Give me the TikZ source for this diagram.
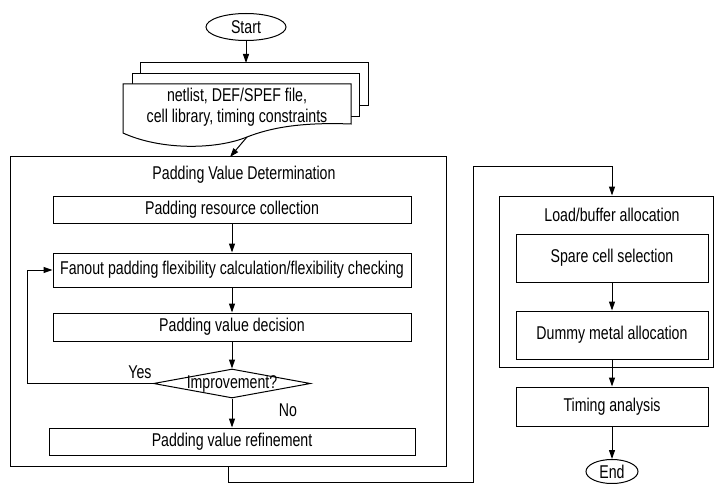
\documentclass[tikz,border=0pt]{standalone}
\usepackage{fontspec}
\setmainfont[FakeStretch=0.765]{Liberation Sans}
\usetikzlibrary{shapes.geometric,arrows.meta,calc}
\begin{document}
\begin{tikzpicture}[x=1pt,y=-1pt,line width=1pt,
  every node/.style={font=\fontsize{18.5}{21}\selectfont, inner sep=0pt},
  box/.style={draw, rectangle, fill=white},
  term/.style={draw, ellipse, fill=white},
  arr/.style={-{Triangle[length=9pt,width=6pt]}}]
\useasboundingbox (0,0) rectangle (715,484);

% start
\node[term, minimum width=80, minimum height=27] (start) at (246,27) {Start};

% document stack
\draw[fill=white] (140,63) rectangle (368,106);
\draw[fill=white] (132,74) rectangle (359,117);
\draw[fill=white] (123,84) -- (351,84) -- (351,124)
  .. controls (300,122) and (270,128) .. (247,137)
  .. controls (215,150) and (160,150) .. (123,133) -- cycle;
\node[align=center] (docs) at (237,107.5) {netlist, DEF/SPEF file,\\cell library, timing constraints};
\coordinate (dtop) at (246,63);
\coordinate (dbot) at (247,137);

% padding value determination block
\node[box, minimum width=436, minimum height=309] (pvd) at (228,311.5) {};
\node (pvdt) at (244,175) {Padding Value Determination};
\coordinate (pin) at (230,157);

\node[box, minimum width=358, minimum height=27] (res) at (232,209.5) {Padding resource collection};
\node[box, minimum width=358, minimum height=34] (fan) at (232,270) {Fanout padding flexibility calculation/flexibility checking};
\node[box, minimum width=358, minimum height=28] (dec) at (232,327) {Padding value decision};
\node[draw, diamond, fill=white, minimum width=157, minimum height=29, aspect=5.4,
  label=center:{Improvement?}] (imp) at (232,383.5) {};
\node[box, minimum width=366, minimum height=27] (ref) at (232,441.5) {Padding value refinement};
\node (yes) at (140,372) {Yes};
\node (no) at (288,410) {No};
\coordinate (lp) at (27,383.5);

% load/buffer block
\node[box, minimum width=214, minimum height=171] (lba) at (606,281.5) {};
\node (lbat) at (612,215) {Load/buffer allocation};
\node[box, minimum width=192, minimum height=48] (spare) at (612,258) {Spare cell selection};
\node[box, minimum width=192, minimum height=48] (dummy) at (612,335) {Dummy metal allocation};
\node[box, minimum width=192, minimum height=39] (timing) at (612,406.5) {Timing analysis};
\node[term, minimum width=52, minimum height=24] (end) at (612,471.5) {End};
\coordinate (c1) at (473,482);
\coordinate (c2) at (473,167);

% connectors
\draw[arr] (start) -- (dtop);
\draw[arr] (dbot) -- (pin);
\draw[arr] (res) -- (fan);
\draw[arr] (fan) -- (dec);
\draw[arr] (dec) -- (imp);
\draw[arr] (imp) -- (ref);
\draw[arr] (imp.west) -- (lp) |- (fan.west);
\draw[arr] (pvd.south) |- (c1) -- (c2) -| (spare.north |- lba.north);
\draw[arr] (spare) -- (dummy);
\draw[arr] (dummy) -- (timing);
\draw[arr] (timing) -- (end);
\end{tikzpicture}
\end{document}
